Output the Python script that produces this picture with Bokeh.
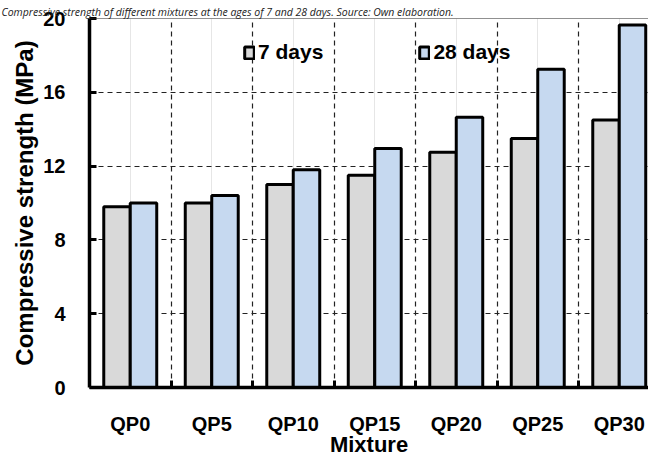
from bokeh.plotting import figure
from bokeh.models import (Range1d, FixedTicker, Legend, LegendItem, Span, Title,
                          ColumnDataSource)
from bokeh.embed import file_html
from bokeh.resources import INLINE

# ---- data ----
mixtures = ["QP0", "QP5", "QP10", "QP15", "QP20", "QP25", "QP30"]
days7 = [9.8, 10.0, 11.0, 11.5, 12.75, 13.5, 14.5]
days28 = [10.0, 10.4, 11.8, 12.95, 14.65, 17.25, 19.65]
y_ticks = [0, 4, 8, 12, 16, 20]
series_names = ["7 days", "28 days"]
title_text = ("Compressive strength of different mixtures at the ages of 7 and 28 days. "
              "Source: Own elaboration.")

FONT = "Liberation Sans"
W, H = 648, 459
LEFT, TOP, BOTTOM = 89, 18, 67
cat_px = 81.5
x_end = (W - LEFT) / cat_px

p = figure(width=W, height=H, output_backend="svg", toolbar_location=None,
           x_range=Range1d(0, x_end), y_range=Range1d(0, 20),
           min_border_left=LEFT, min_border_right=0, min_border_top=TOP,
           min_border_bottom=BOTTOM)
p.outline_line_color = None
p.background_fill_color = "white"
p.border_fill_color = "white"

centers = [i + 0.5 for i in range(len(mixtures))]
bounds = [float(i) for i in range(1, len(mixtures))]
bw = 0.325
src = ColumnDataSource(dict(
    x7=[c - bw / 2 for c in centers], x28=[c + bw / 2 for c in centers],
    d7=days7, d28=days28))

r7 = p.vbar(x="x7", top="d7", width=bw, bottom=0, source=src,
            fill_color="#d9d9d9", line_color="black", line_width=3)
r28 = p.vbar(x="x28", top="d28", width=bw, bottom=0, source=src,
             fill_color="#c6d9f0", line_color="black", line_width=3)

# x axis
xa = p.xaxis[0]
xa.ticker = FixedTicker(ticks=centers, minor_ticks=bounds)
xa.major_label_overrides = {c: m for c, m in zip(centers, mixtures)}
xa.major_tick_line_color = None
xa.minor_tick_in = 7
xa.minor_tick_out = 0
xa.minor_tick_line_width = 3
xa.minor_tick_line_color = "black"
xa.axis_line_width = 3.5
xa.axis_line_color = "black"
xa.major_label_text_font = FONT
xa.major_label_text_font_style = "bold"
xa.major_label_text_font_size = "20px"
xa.major_label_text_color = "black"
xa.major_label_standoff = 19
xa.axis_label = "Mixture"
xa.axis_label_text_font = FONT
xa.axis_label_text_font_style = "bold"
xa.axis_label_text_font_size = "22px"
xa.axis_label_text_color = "black"
xa.axis_label_standoff = -6

# y axis
ya = p.yaxis[0]
ya.ticker = FixedTicker(ticks=y_ticks)
ya.major_tick_in = 7
ya.major_tick_out = 0
ya.major_tick_line_width = 3
ya.minor_tick_line_color = None
ya.axis_line_width = 3.5
ya.axis_line_color = "black"
ya.major_label_text_font = FONT
ya.major_label_text_font_style = "bold"
ya.major_label_text_font_size = "20px"
ya.major_label_text_color = "black"
ya.major_label_standoff = 24
ya.axis_label = "Compressive strength (MPa)"
ya.axis_label_text_font = FONT
ya.axis_label_text_font_style = "bold"
ya.axis_label_text_font_size = "24px"
ya.axis_label_text_color = "black"
ya.axis_label_standoff = 2

# grids
p.xgrid.ticker = FixedTicker(ticks=centers, minor_ticks=bounds)
p.xgrid.grid_line_color = "#e6e6e6"
p.xgrid.grid_line_width = 1
p.xgrid.minor_grid_line_color = "#222222"
p.xgrid.minor_grid_line_dash = "5 4"
p.xgrid.minor_grid_line_width = 1.2
p.ygrid.ticker = FixedTicker(ticks=y_ticks)
p.ygrid.grid_line_color = "#222222"
p.ygrid.grid_line_dash = "5 4"
p.ygrid.grid_line_width = 1.2

p.add_layout(Span(location=20, dimension="width", line_color="#222222", line_width=1))

# legend
legend = Legend(items=[LegendItem(label=series_names[0], renderers=[r7]),
                       LegendItem(label=series_names[1], renderers=[r28])],
                orientation="horizontal", location=(154, 323),
                spacing=95, padding=0, margin=0, glyph_width=12, glyph_height=15,
                label_standoff=3, label_height=24,
                label_text_font=FONT, label_text_font_style="bold",
                label_text_font_size="21px", label_text_color="black",
                border_line_color=None, background_fill_alpha=0)
p.add_layout(legend, "center")

# caption at the very top
cap = Title(text=title_text, align="left", offset=-LEFT + 1, standoff=0,
            text_font="Open Sans", text_font_style="italic", text_font_size="10.5px",
            text_color="#222222")
p.add_layout(cap, "above")

open("out.html", "w").write(file_html(p, INLINE))
